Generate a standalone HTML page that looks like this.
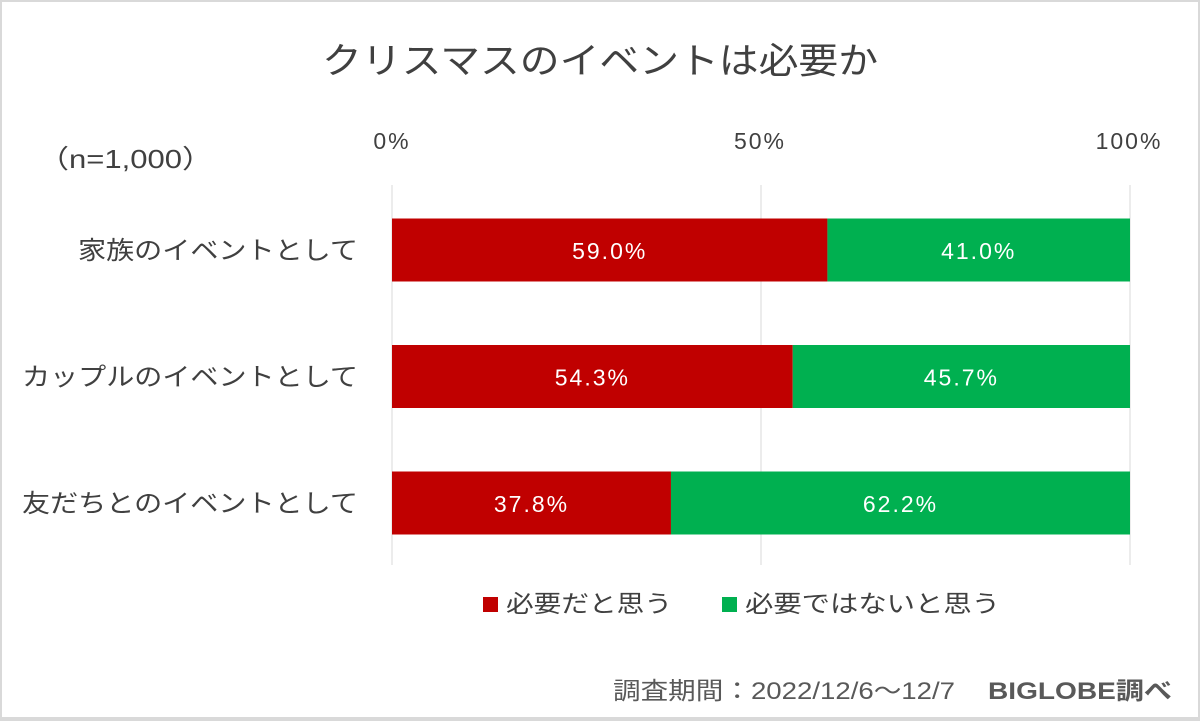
<!DOCTYPE html>
<html><head><meta charset="utf-8"><style>
html,body{margin:0;padding:0;background:#fff}
#wrap{position:relative;width:1200px;height:721px;box-sizing:border-box;border:2px solid #d9d9d9;border-bottom-width:4px;overflow:hidden;font-family:"Liberation Sans","Noto Sans CJK JP",sans-serif;color:#404040}
svg text{font-family:"Liberation Sans","Noto Sans CJK JP",sans-serif}
</style></head><body>
<div id="wrap">
<svg id="chart" width="1200" height="721" style="position:absolute;left:-2px;top:-2px">
<text x="322" y="73" font-size="36" textLength="556" lengthAdjust="spacingAndGlyphs" fill="#404040">クリスマスのイベントは必要か</text>
<text x="38" y="168" font-size="26" textLength="175" lengthAdjust="spacingAndGlyphs" fill="#404040">（n=1,000）</text>
<g id="grid"></g><g id="bars"></g><g id="ylabels"></g>
<rect x="483" y="597" width="15" height="15" fill="#c00000"/>
<text x="506" y="612" font-size="24" textLength="166" lengthAdjust="spacingAndGlyphs" fill="#404040">必要だと思う</text>
<rect x="722" y="597" width="15" height="15" fill="#00b050"/>
<text x="745" y="612" font-size="24" textLength="255" lengthAdjust="spacingAndGlyphs" fill="#404040">必要ではないと思う</text>
<text x="613" y="699" font-size="24" textLength="342" lengthAdjust="spacingAndGlyphs" fill="#595959">調査期間：2022/12/6～12/7</text>
<text x="988" y="699" font-size="24" textLength="184" lengthAdjust="spacingAndGlyphs" font-weight="bold" fill="#595959">BIGLOBE調べ</text>
</svg>
</div>
<script>
const categories=["家族のイベントとして","カップルのイベントとして","友だちとのイベントとして"];
const necessary=[59.0,54.3,37.8];
const notNecessary=[41.0,45.7,62.2];
const ticks=[0,50,100];
const tickLabels=["0%","50%","100%"];
const NS="http://www.w3.org/2000/svg";
const x0=392,x1=1130,yTop=185,yBot=565;
function xs(v){return x0+(x1-x0)*v/100;}
function yc(i){return 250+i*126.5;}
const bh=63;
function mk(tag,attrs,parent){const e=document.createElementNS(NS,tag);for(const k in attrs)e.setAttribute(k,attrs[k]);parent.appendChild(e);return e;}
const grid=document.getElementById('grid'),bars=document.getElementById('bars'),yl=document.getElementById('ylabels');
ticks.forEach((t,i)=>{
 const l=mk('line',{x1:xs(t),x2:xs(t),y1:yTop,y2:yBot,stroke:'#d9d9d9','stroke-width':1},grid);
 
 
 const tx=mk('text',{x:xs(t)+(t===0?0:(t===100?-1:-1)),y:149,'text-anchor':'middle','font-size':23,'letter-spacing':'2',fill:'#404040'},grid);
 tx.textContent=tickLabels[i];
 
 
});
categories.forEach((c,i)=>{
 const y=yc(i)-bh/2;
 const a=mk('rect',{x:xs(0),y:y,width:xs(necessary[i])-xs(0),height:bh,fill:'#c00000'},bars);
 
 
 const b=mk('rect',{x:xs(necessary[i]),y:y,width:xs(necessary[i]+notNecessary[i])-xs(necessary[i]),height:bh,fill:'#00b050'},bars);
 
 
 const ta=mk('text',{x:(xs(0)+xs(necessary[i]))/2,y:yc(i)+9,'text-anchor':'middle','font-size':23,'letter-spacing':'2',fill:'#fff'},bars);
 ta.textContent=necessary[i].toFixed(1)+'%';
 
 
 const tb=mk('text',{x:(xs(necessary[i])+xs(necessary[i]+notNecessary[i]))/2,y:yc(i)+9,'text-anchor':'middle','font-size':23,'letter-spacing':'2',fill:'#fff'},bars);
 tb.textContent=notNecessary[i].toFixed(1)+'%';
 
 
 const w=c.length*28;
 const cl=mk('text',{x:358-w,y:yc(i)+9,'font-size':25,textLength:w,lengthAdjust:'spacingAndGlyphs',fill:'#404040'},yl);
 cl.textContent=c;
 
 
});
</script>
</body></html>
